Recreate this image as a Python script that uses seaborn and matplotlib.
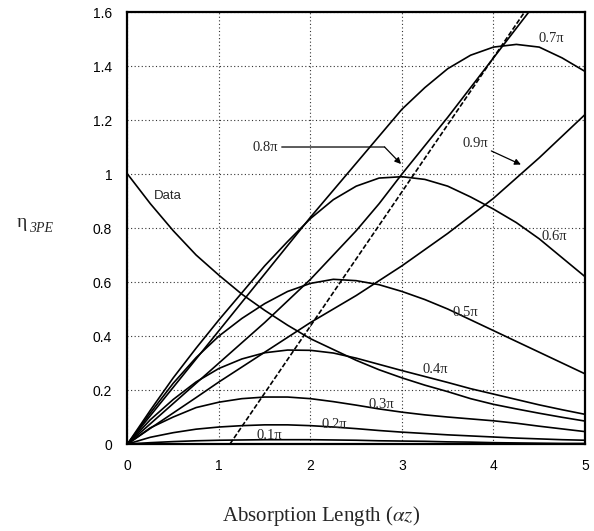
import numpy as np
import pandas as pd
import matplotlib
matplotlib.use("Agg")
import matplotlib.pyplot as plt
import seaborn as sns

# ---- data ----
x_grid = [0, 0.25, 0.5, 0.75, 1, 1.25, 1.5, 1.75, 2, 2.25, 2.5, 2.75,
          3, 3.25, 3.5, 3.75, 4, 4.25, 4.5, 4.75, 5]

data_curve = [1.0, 0.89, 0.79, 0.70, 0.625, 0.555, 0.495, 0.44, 0.39, 0.35, 0.31, 0.275,
              0.245, 0.218, 0.194, 0.168, 0.147, 0.13, 0.114, 0.099, 0.085]
pi01 = [0, 0.005, 0.009, 0.012, 0.014, 0.015, 0.016, 0.016, 0.016, 0.015, 0.014, 0.012,
        0.011, 0.01, 0.008, 0.007, 0.005, 0.004, 0.003, 0.002, 0.002]
pi02 = [0, 0.025, 0.042, 0.055, 0.063, 0.068, 0.071, 0.071, 0.068, 0.063, 0.057, 0.050,
        0.044, 0.039, 0.034, 0.030, 0.026, 0.022, 0.019, 0.016, 0.014]
pi03 = [0, 0.06, 0.10, 0.135, 0.155, 0.168, 0.174, 0.174, 0.168, 0.157, 0.144, 0.130,
        0.118, 0.108, 0.100, 0.093, 0.086, 0.077, 0.066, 0.056, 0.046]
pi04 = [0, 0.09, 0.165, 0.23, 0.28, 0.315, 0.338, 0.348, 0.347, 0.337, 0.318, 0.295,
        0.272, 0.25, 0.228, 0.205, 0.185, 0.165, 0.145, 0.127, 0.11]
pi05 = [0, 0.115, 0.225, 0.32, 0.40, 0.465, 0.52, 0.565, 0.595, 0.61, 0.605, 0.59,
        0.565, 0.535, 0.50, 0.46, 0.42, 0.38, 0.34, 0.30, 0.26]
pi06 = [0, 0.125, 0.245, 0.355, 0.46, 0.56, 0.66, 0.75, 0.835, 0.905, 0.955, 0.985,
        0.99, 0.98, 0.955, 0.915, 0.87, 0.82, 0.76, 0.69, 0.62]
pi07 = [0, 0.105, 0.21, 0.315, 0.42, 0.525, 0.63, 0.735, 0.84, 0.94, 1.04, 1.14,
        1.24, 1.32, 1.39, 1.44, 1.47, 1.48, 1.47, 1.43, 1.38]
pi08 = [0, 0.075, 0.15, 0.225, 0.30, 0.375, 0.45, 0.53, 0.61, 0.70, 0.79, 0.89,
        1.0, 1.105, 1.21, 1.32, 1.43, 1.54, 1.65, 1.76, 1.87]
pi09 = [0, 0.058, 0.115, 0.172, 0.23, 0.285, 0.34, 0.395, 0.45, 0.50, 0.55, 0.605,
        0.66, 0.72, 0.78, 0.845, 0.91, 0.985, 1.06, 1.14, 1.22]
dashed_x = [1.12, 4.34]
dashed_y = [0.0, 1.6]

series = {"Data": data_curve, "0.1π": pi01, "0.2π": pi02, "0.3π": pi03, "0.4π": pi04,
          "0.5π": pi05, "0.6π": pi06, "0.7π": pi07, "0.8π": pi08, "0.9π": pi09}

x_ticks = [0, 1, 2, 3, 4, 5]
y_ticks = [0, 0.2, 0.4, 0.6, 0.8, 1.0, 1.2, 1.4, 1.6]

# ---- figure ----
sns.set_style("white")
plt.rcParams["font.family"] = ["Liberation Sans", "DejaVu Sans"]
plt.rcParams["mathtext.fontset"] = "stix"

fig = plt.figure(figsize=(5.94, 5.31), dpi=100)
ax = fig.add_axes([0.2146, 0.1638, 0.7702, 0.8136])

rows = []
for name, vals in series.items():
    for xv, yv in zip(x_grid, vals):
        rows.append({"x": xv, "y": yv, "curve": name})
df = pd.DataFrame(rows)

for name in series:
    sns.lineplot(data=df[df.curve == name], x="x", y="y", color="black",
                 lw=1.2, ax=ax, estimator=None, sort=True)
sns.lineplot(x=dashed_x, y=dashed_y, color="black", lw=1.2, ax=ax,
             linestyle=(0, (3, 1.3)))

ax.set_xlim(0, 5)
ax.set_ylim(0, 1.6)
ax.set_xticks(x_ticks)
ax.set_yticks(y_ticks)
ax.set_xticklabels([f"{t:g}" for t in x_ticks], fontsize=10)
ax.set_yticklabels([f"{t:g}" for t in y_ticks], fontsize=10)
ax.tick_params(axis="both", direction="out", length=3, width=0.8, pad=8, colors="black")
ax.grid(True, color="#333333", linestyle=(0, (1, 2.2)), lw=0.8)
for s in ax.spines.values():
    s.set_visible(True)
    s.set_color("black")
    s.set_linewidth(1.6)
ax.set_xlabel("")
ax.set_ylabel("")

serif = ["Liberation Serif", "DejaVu Serif"]
lab_kw = dict(fontsize=10.5, family=serif, ha="center", va="center")
ax.text(4.63, 1.503, "0.7π", **lab_kw)
ax.text(4.66, 0.767, "0.6π", **lab_kw)
ax.text(3.69, 0.487, "0.5π", **lab_kw)
ax.text(3.36, 0.275, "0.4π", **lab_kw)
ax.text(2.78, 0.145, "0.3π", **lab_kw)
ax.text(2.26, 0.071, "0.2π", **lab_kw)
ax.text(1.55, 0.032, "0.1π", **lab_kw)
ax.text(0.44, 0.92, "Data", fontsize=9.5, ha="center", va="center")

# 0.8π label with bent arrow
ax.annotate("0.8π", xy=(2.81, 1.10), xytext=(1.51, 1.10), fontsize=10.5, family=serif,
            ha="center", va="center",
            arrowprops=dict(arrowstyle="-", color="black", lw=0.9, shrinkA=0, shrinkB=0))
ax.annotate("", xy=(2.99, 1.037), xytext=(2.81, 1.10),
            arrowprops=dict(arrowstyle="-|>", color="black", lw=0.9, shrinkA=0, shrinkB=0,
                            mutation_scale=9))
# 0.9π label with arrow
ax.annotate("0.9π", xy=(4.30, 1.035), xytext=(3.80, 1.113), fontsize=10.5, family=serif,
            ha="center", va="center",
            arrowprops=dict(arrowstyle="-|>", color="black", lw=0.9, shrinkA=0, shrinkB=0,
                            mutation_scale=9))

# axis labels
fig.text(321 / 594, 1 - 516 / 531, r"Absorption Length ($\alpha z$)", fontsize=15,
         family=serif, ha="center", va="center")
fig.text(22 / 594, 1 - 223 / 531, "η", fontsize=14, family=serif, ha="center", va="center")
fig.text(41 / 594, 1 - 228 / 531, "3PE", fontsize=10, family=serif, style="italic",
         ha="center", va="center")

fig.savefig("out.png", dpi=100)
